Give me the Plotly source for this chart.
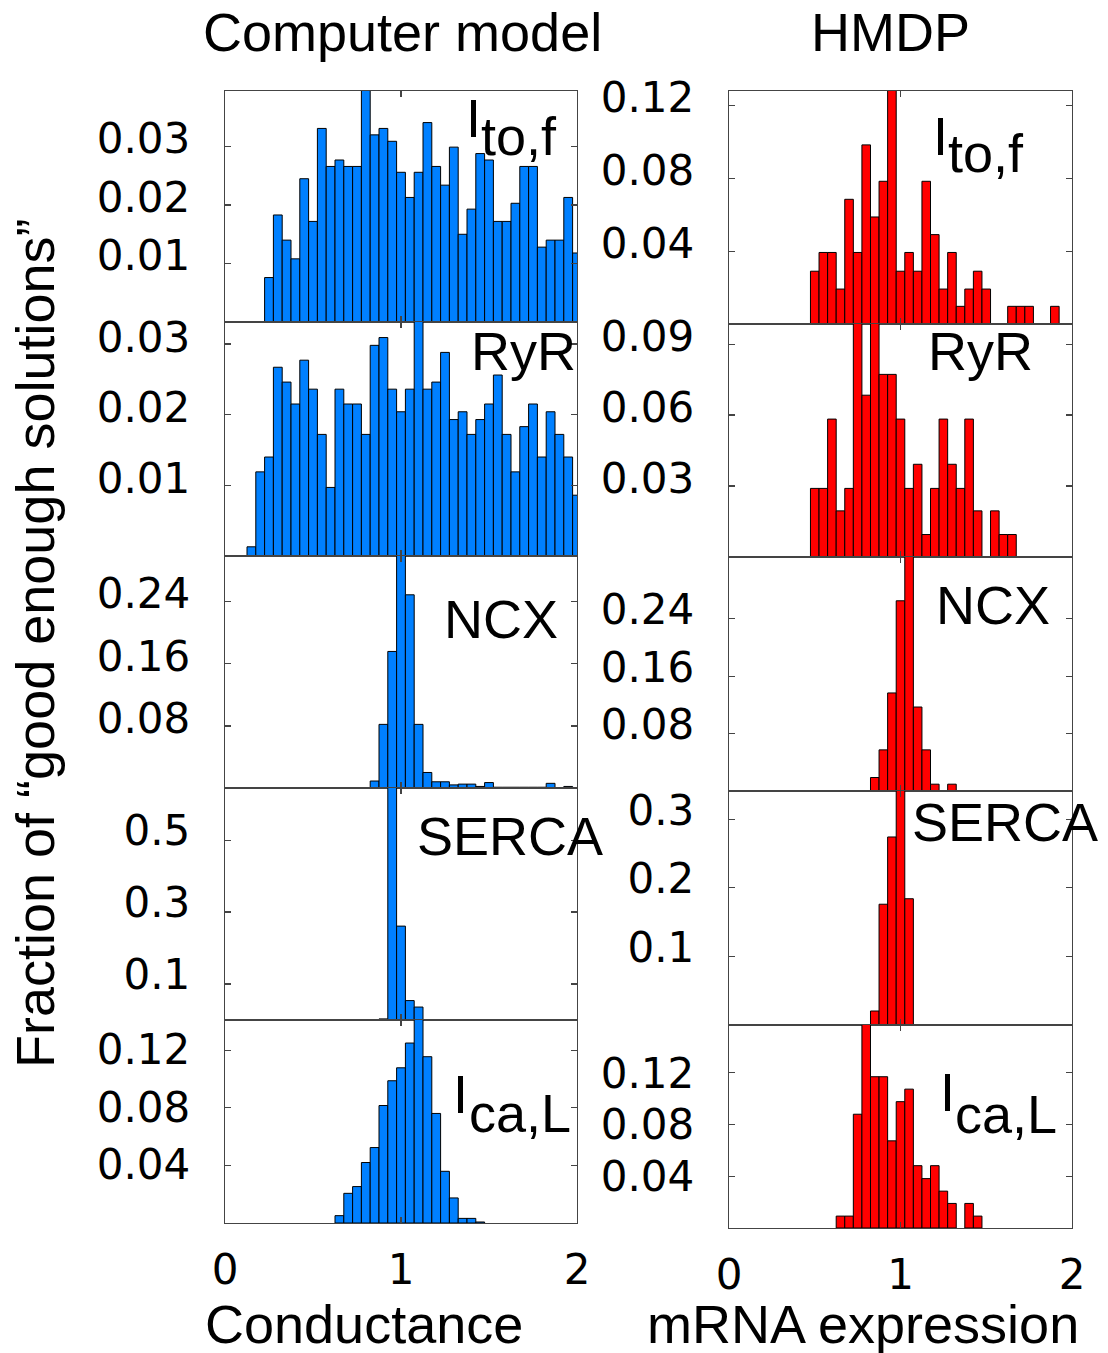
import plotly.graph_objects as go

# ---------------- data ----------------
BIN_CENTERS = [0.05, 0.10, 0.15, 0.20, 0.25, 0.30, 0.35, 0.40, 0.45, 0.50,
               0.55, 0.60, 0.65, 0.70, 0.75, 0.80, 0.85, 0.90, 0.95, 1.00,
               1.05, 1.10, 1.15, 1.20, 1.25, 1.30, 1.35, 1.40, 1.45, 1.50,
               1.55, 1.60, 1.65, 1.70, 1.75, 1.80, 1.85, 1.90, 1.95, 2.00]

model_ito = [0, 0, 0, 0,
             0.0076, 0.0183, 0.0140, 0.0108, 0.0245, 0.0172, 0.0331, 0.0266, 0.0277, 0.0266,
             0.0266, 0.0400, 0.0320, 0.0331, 0.0309, 0.0256, 0.0213, 0.0256, 0.0341, 0.0266,
             0.0234, 0.0299, 0.0150, 0.0193, 0.0288, 0.0277, 0.0172, 0.0172, 0.0203, 0.0266,
             0.0266, 0.0128, 0.0140, 0.0140, 0.0213, 0.0118]
model_ryr = [0, 0,
             0.0013, 0.0119, 0.0140, 0.0267, 0.0246, 0.0215, 0.0277, 0.0236, 0.0172, 0.0097,
             0.0236, 0.0215, 0.0215, 0.0172, 0.0298, 0.0309, 0.0236, 0.0204, 0.0236, 0.0340,
             0.0236, 0.0246, 0.0288, 0.0193, 0.0204, 0.0172, 0.0193, 0.0215, 0.0256, 0.0172,
             0.0119, 0.0183, 0.0215, 0.0140, 0.0204, 0.0172, 0.0140, 0.0086]
model_ncx = [0, 0, 0, 0, 0, 0, 0, 0, 0, 0, 0, 0, 0, 0, 0, 0,
             0.009, 0.082, 0.176, 0.305, 0.249, 0.082, 0.020, 0.008, 0.008, 0.004,
             0.005, 0.005, 0.002, 0.007, 0.001, 0.001, 0.001, 0.001, 0.001, 0.001,
             0.006, 0, 0.002, 0]
model_serca = [0, 0, 0, 0, 0, 0, 0, 0, 0, 0, 0, 0, 0, 0, 0, 0, 0,
               0.003, 0.66, 0.261, 0.054, 0.036,
               0, 0, 0, 0, 0, 0, 0, 0, 0, 0, 0, 0, 0, 0, 0, 0, 0, 0]
model_ical = [0, 0, 0, 0, 0, 0, 0, 0, 0, 0, 0, 0,
              0.0051, 0.0206, 0.0253, 0.0420, 0.0524, 0.0816, 0.0988, 0.1078, 0.125, 0.145,
              0.1155, 0.0761, 0.0359, 0.0174, 0.0032, 0.0032, 0.0007,
              0, 0, 0, 0, 0, 0, 0, 0, 0, 0, 0]

hmdp_ito = [0, 0, 0, 0, 0, 0, 0, 0, 0,
            0.029, 0.0393, 0.0393, 0.0192, 0.0685, 0.0393, 0.0984, 0.0588, 0.0784, 0.130,
            0.029, 0.0393, 0.029, 0.0784, 0.0491, 0.0192, 0.0393, 0.0097, 0.0192, 0.029,
            0.0192, 0, 0, 0.0097, 0.0097, 0.0097, 0, 0, 0.0097, 0, 0]
hmdp_ryr = [0, 0, 0, 0, 0, 0, 0, 0, 0,
            0.029, 0.029, 0.0583, 0.0195, 0.029, 0.100, 0.0684, 0.100, 0.0772, 0.0772,
            0.0583, 0.029, 0.0392, 0.0095, 0.029, 0.0583, 0.0392, 0.029, 0.0583, 0.0195,
            0, 0.0195, 0.0095, 0.0095, 0, 0, 0, 0, 0, 0, 0]
hmdp_ncx = [0, 0, 0, 0, 0, 0, 0, 0, 0, 0, 0, 0, 0, 0, 0, 0,
            0.0188, 0.0573, 0.1366, 0.265, 0.34, 0.117, 0.0573, 0.0095, 0, 0.0095,
            0, 0, 0, 0, 0, 0, 0, 0, 0, 0, 0, 0, 0, 0]
hmdp_serca = [0, 0, 0, 0, 0, 0, 0, 0, 0, 0, 0, 0, 0, 0, 0, 0,
              0.0204, 0.176, 0.274, 0.35, 0.184,
              0, 0, 0, 0, 0, 0, 0, 0, 0, 0, 0, 0, 0, 0, 0, 0, 0, 0, 0]
hmdp_ical = [0, 0, 0, 0, 0, 0, 0, 0, 0, 0, 0, 0,
             0.0092, 0.0092, 0.088, 0.165, 0.117, 0.117, 0.0674, 0.0977, 0.1074, 0.0482,
             0.0382, 0.0482, 0.0285, 0.019, 0, 0.019, 0.0092,
             0, 0, 0, 0, 0, 0, 0, 0, 0, 0, 0]

X_TICKS = [0, 1, 2]
X_TICK_TEXT = ["0", "1", "2"]

# ---------------- layout config ----------------
W, H = 1108, 1353
BLUE = "#0080FF"
RED = "#FF0000"

def px_x(p):
    return p / W

def px_y(p):
    return 1 - p / H

L_COL = (225, 577)
R_COL = (729, 1072)
L_ROWS = [(91, 322), (322, 556), (556, 788), (788, 1020), (1020, 1223)]
R_ROWS = [(91, 324), (324, 557), (557, 791), (791, 1025), (1025, 1228)]

panels = [
    dict(vals=model_ito, col=L_COL, row=L_ROWS[0], color=BLUE, yr=[0, 0.0395],
         tv=[0.01, 0.02, 0.03], tt=["0.01", "0.02", "0.03"], shift=-8),
    dict(vals=model_ryr, col=L_COL, row=L_ROWS[1], color=BLUE, yr=[0, 0.0331],
         tv=[0.01, 0.02, 0.03], tt=["0.01", "0.02", "0.03"], shift=-7),
    dict(vals=model_ncx, col=L_COL, row=L_ROWS[2], color=BLUE, yr=[0, 0.299],
         tv=[0.08, 0.16, 0.24], tt=["0.08", "0.16", "0.24"], shift=-8),
    dict(vals=model_serca, col=L_COL, row=L_ROWS[3], color=BLUE, yr=[0, 0.645],
         tv=[0.1, 0.3, 0.5], tt=["0.1", "0.3", "0.5"], shift=-10),
    dict(vals=model_ical, col=L_COL, row=L_ROWS[4], color=BLUE, yr=[0, 0.141],
         tv=[0.04, 0.08, 0.12], tt=["0.04", "0.08", "0.12"], shift=-1),
    dict(vals=hmdp_ito, col=R_COL, row=R_ROWS[0], color=RED, yr=[0, 0.128],
         tv=[0.04, 0.08, 0.12], tt=["0.04", "0.08", "0.12"], shift=-8),
    dict(vals=hmdp_ryr, col=R_COL, row=R_ROWS[1], color=RED, yr=[0, 0.0985],
         tv=[0.03, 0.06, 0.09], tt=["0.03", "0.06", "0.09"], shift=-8),
    dict(vals=hmdp_ncx, col=R_COL, row=R_ROWS[2], color=RED, yr=[0, 0.326],
         tv=[0.08, 0.16, 0.24], tt=["0.08", "0.16", "0.24"], shift=-9),
    dict(vals=hmdp_serca, col=R_COL, row=R_ROWS[3], color=RED, yr=[0, 0.341],
         tv=[0.1, 0.2, 0.3], tt=["0.1", "0.2", "0.3"], shift=-9),
    dict(vals=hmdp_ical, col=R_COL, row=R_ROWS[4], color=RED, yr=[0, 0.157],
         tv=[0.04, 0.08, 0.12], tt=["0.04", "0.08", "0.12"], shift=0),
]

fig = go.Figure()
layout = dict(template="none", width=W, height=H,
              margin=dict(l=0, r=0, t=0, b=0, pad=0), autosize=False,
              plot_bgcolor="white", paper_bgcolor="white", showlegend=False,
              bargap=0)

TICKFONT = dict(family="DejaVu Sans", size=42, color="black")
AX_COMMON = dict(showline=True, linecolor="#444", linewidth=1.3, mirror="ticks",
                 ticks="inside", ticklen=6, tickcolor="#444", tickwidth=1.2,
                 showgrid=False, zeroline=False, fixedrange=True, automargin=False)

for i, p in enumerate(panels):
    k = "" if i == 0 else str(i + 1)
    xs = [c for c, v in zip(BIN_CENTERS, p["vals"]) if v > 0]
    ys = [v for v in p["vals"] if v > 0]
    fig.add_trace(go.Bar(x=xs, y=ys, width=0.05, xaxis="x" + k, yaxis="y" + k,
                         hoverinfo="skip",
                         marker=dict(color=p["color"], line=dict(color="black", width=1))))
    bottom = i in (4, 9)
    layout["xaxis" + k] = dict(AX_COMMON, domain=[px_x(p["col"][0]), px_x(p["col"][1])],
                              anchor="y" + k, range=[0, 2], tickvals=X_TICKS,
                              ticktext=X_TICK_TEXT, showticklabels=bottom,
                              tickfont=TICKFONT, ticklabelstandoff=9)
    layout["yaxis" + k] = dict(AX_COMMON, domain=[px_y(p["row"][1]), px_y(p["row"][0])],
                              anchor="x" + k, range=p["yr"], tickvals=p["tv"],
                              ticktext=p["tt"], tickfont=TICKFONT,
                              ticklabelstandoff=25, ticklabelshift=p["shift"])

fig.update_layout(**layout)

LABEL_FONT = dict(family="Liberation Sans, Arial", size=54, color="black")

def ann(text, x, y, angle=0):
    fig.add_annotation(text=text, x=px_x(x), y=px_y(y), xref="paper", yref="paper",
                       xanchor="center", yanchor="middle", showarrow=False,
                       font=LABEL_FONT, textangle=angle, borderpad=0, borderwidth=0)

# titles
ann("Computer model", 402, 32)
ann("HMDP", 890, 32)
ann("Conductance", 364, 1324)
ann("mRNA expression", 863, 1324)
ann("Fraction of \u201cgood enough solutions\u201d", 35, 643, angle=-90)

# panel labels
ann("I", 473, 118)
ann("to,f", 519, 136)
ann("RyR", 523, 351)
ann("NCX", 501, 619)
ann("SERCA", 510, 836)
ann("I", 461, 1094)
ann("ca,L", 520, 1113)
ann("I", 940, 136)
ann("to,f", 986, 153)
ann("RyR", 980, 351)
ann("NCX", 993, 605)
ann("SERCA", 1005, 822)
ann("I", 947, 1092)
ann("ca,L", 1006, 1114)

fig.write_html("out.html", config={"displayModeBar": False, "staticPlot": True},
               post_script="document.body.style.margin='0';document.body.style.overflow='hidden';")
